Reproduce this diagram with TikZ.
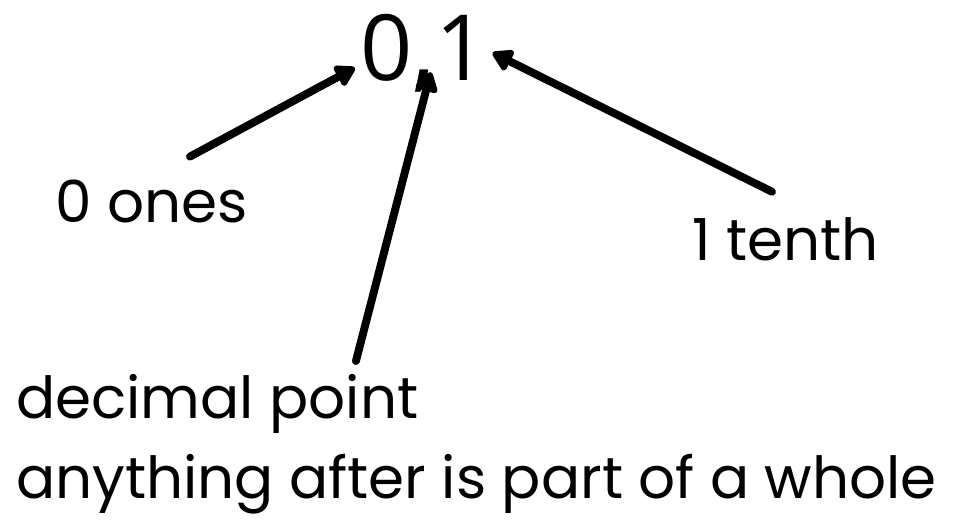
\documentclass[tikz,border=0pt]{standalone}
\usepackage{fontspec}
\setmainfont{Poppins}
\newfontfamily\numfont{Open Sans}
\usepackage{tikz}
\usetikzlibrary{positioning, arrows.meta}

\begin{document}
\begin{tikzpicture}[x=0.02cm, y=-0.02cm,
      lbl/.style={inner sep=0pt, anchor=base west, font=\fontsize{33}{38}\selectfont},
      arr/.style={-{Triangle[length=4.5mm, width=5mm, round]}, line width=4.5pt,
                  line cap=round, line join=round}
    ]
    \useasboundingbox (0,0) rectangle (959,521);

    \node[inner sep=0pt, anchor=base west, font=\numfont\fontsize{52}{60}\selectfont] (num) at (360,80) {0,1};

    \node[lbl] (ones)  at (55,222)  {0 ones};
    \node[lbl] (tenth) at (692,260) {1 tenth};
    \node[lbl] (point) at (16,418)  {decimal point};
    \node[lbl, below=0.4cm of point.south west, anchor=north west] (whole) {anything after is part of a whole};

    % arrows onto the number
    \draw[arr] ([xshift=2.7cm, yshift=0.45cm]ones.north west) -- ([xshift=-0.1cm, yshift=-0.3cm]num.west);
    \draw[arr] ([xshift=6.8cm, yshift=0.25cm]point.north west) -- ([xshift=0.14cm, yshift=0.4cm]num.south);
    \draw[arr] ([xshift=1.6cm, yshift=0.5cm]tenth.north west) -- ([xshift=0.1cm, yshift=0cm]num.east);
  \end{tikzpicture}
\end{document}
